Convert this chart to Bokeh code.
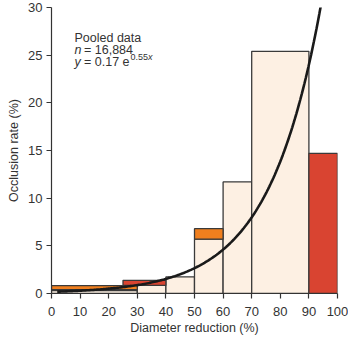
import numpy as np
from bokeh.plotting import figure
from bokeh.models import Label, FixedTicker, Range1d, Title
from bokeh.embed import file_html
from bokeh.resources import INLINE

# ---- data ----
beige_left = [0, 30, 40, 50, 60, 70]
beige_right = [30, 40, 50, 60, 70, 90]
beige_top = [0.3, 0.85, 1.74, 5.7, 11.7, 25.4]

orange_left = [0, 50]
orange_right = [30, 60]
orange_bottom = [0.4, 5.7]
orange_top = [0.82, 6.8]

red_left = [25, 90]
red_right = [40, 100]
red_bottom = [0.85, 0]
red_top = [1.38, 14.7]

fit_a = 0.17
fit_b = 0.55
x_ticks = [0, 10, 20, 30, 40, 50, 60, 70, 80, 90, 100]
y_ticks = [0, 5, 10, 15, 20, 25, 30]

FONT = "Liberation Sans"
TXT = "#333333"
EDGE = "#3a3a3a"

p = figure(width=348, height=340, output_backend="svg", toolbar_location=None,
           x_range=Range1d(0, 100), y_range=Range1d(0, 30),
           min_border_left=51, min_border_right=11, min_border_top=7, min_border_bottom=47)
p.outline_line_color = None
p.xgrid.grid_line_color = None
p.ygrid.grid_line_color = None
p.background_fill_color = "white"

p.quad(left=beige_left, right=beige_right, bottom=0, top=beige_top,
       fill_color="#FDF0E3", line_color=EDGE, line_width=1.3)
p.quad(left=orange_left, right=orange_right, bottom=orange_bottom, top=orange_top,
       fill_color="#F07F1E", line_color=EDGE, line_width=1.3)
p.quad(left=red_left, right=red_right, bottom=red_bottom, top=red_top,
       fill_color="#D94431", line_color=EDGE, line_width=1.3)

xs = np.linspace(2, 96, 200)
p.line(xs, fit_a * np.exp(fit_b * xs / 10.0), line_color="#1a1a1a", line_width=2.6)

for ax in (p.xaxis[0], p.yaxis[0]):
    ax.axis_line_color = TXT
    ax.axis_line_width = 1.2
    ax.major_tick_line_color = TXT
    ax.major_tick_line_width = 1.2
    ax.major_tick_out = 5
    ax.major_tick_in = 0
    ax.minor_tick_line_color = None
    ax.major_label_text_font = FONT
    ax.major_label_text_font_size = "13px"
    ax.major_label_text_color = TXT
    ax.axis_label_text_font = FONT
    ax.axis_label_text_font_size = "12.5px"
    ax.axis_label_text_font_style = "normal"
    ax.axis_label_text_color = TXT

p.xaxis.ticker = FixedTicker(ticks=x_ticks)
p.yaxis.ticker = FixedTicker(ticks=y_ticks)
p.yaxis.axis_label = "Occlusion rate (%)"
p.xaxis.major_label_standoff = 8
p.yaxis.major_label_standoff = 4
p.yaxis.axis_label_standoff = 4

p.add_layout(Title(text="Diameter reduction (%)", align="center", vertical_align="bottom",
                   text_font=FONT, text_font_size="12.5px", text_font_style="normal",
                   text_color=TXT, standoff=0), "below")

def lab(text, x, y, xo=0, size="12.5px", style="normal"):
    p.add_layout(Label(x=x, y=y, x_offset=xo, text=text, text_font=FONT,
                       text_font_size=size, text_font_style=style,
                       text_color=TXT, text_baseline="alphabetic", text_align="left"))

lab("Pooled data", 8.05, 26.8)
lab("n", 8.05, 25.52, style="italic")
lab("= 16,884", 8.05, 25.52, xo=9.5)
lab("y", 8.05, 24.24, style="italic")
lab("= 0.17 e", 8.05, 24.24, xo=9.5)
lab("0.55", 8.05, 24.77, xo=56, size="9px")
lab("x", 8.05, 24.77, xo=73.5, size="9px", style="italic")

open("out.html", "w").write(file_html(p, INLINE))
